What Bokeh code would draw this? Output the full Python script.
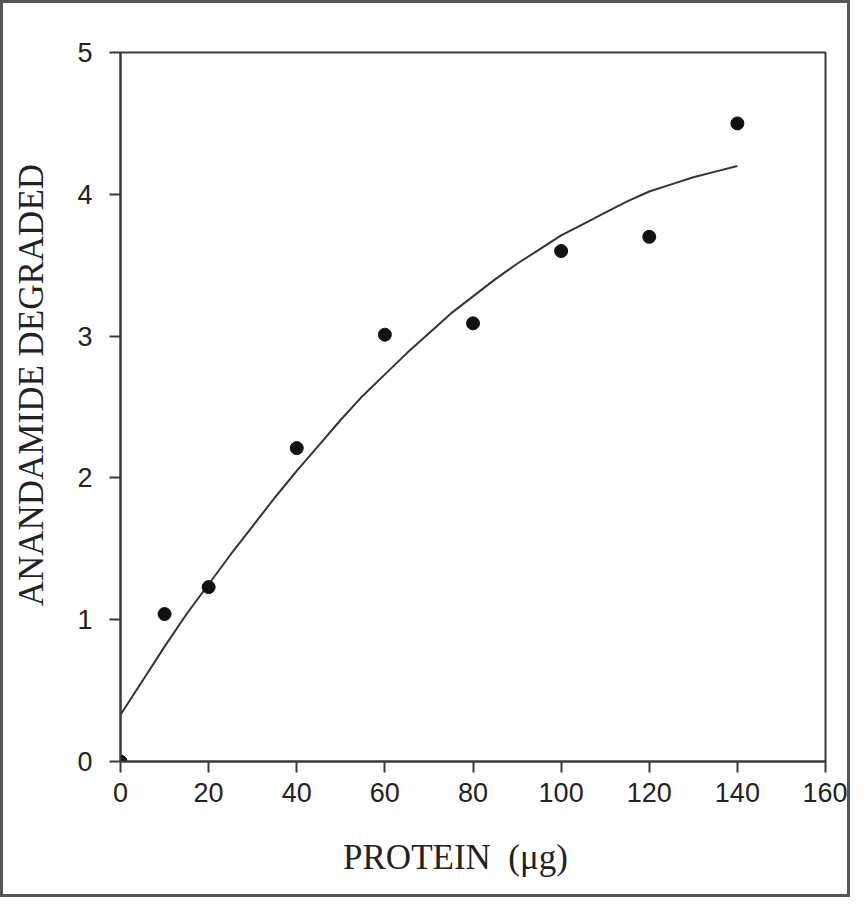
from bokeh.plotting import figure
from bokeh.models import Range1d, FixedTicker
from bokeh.embed import file_html
from bokeh.resources import INLINE

# measured points
protein = [0, 10, 20, 40, 60, 80, 100, 120, 140]
degraded = [0.0, 1.04, 1.23, 2.21, 3.01, 3.09, 3.60, 3.70, 4.50]

# fitted curve
curve_x = [0, 5, 10, 15, 20, 25, 30, 35, 40, 45, 50, 55, 60, 65, 70, 75, 80,
           85, 90, 95, 100, 105, 110, 115, 120, 125, 130, 135, 140]
curve_y = [0.33, 0.57, 0.81, 1.04, 1.25, 1.46, 1.66, 1.86, 2.05, 2.23, 2.41,
           2.58, 2.73, 2.88, 3.02, 3.16, 3.28, 3.40, 3.51, 3.61, 3.71, 3.79,
           3.87, 3.95, 4.02, 4.07, 4.12, 4.16, 4.20]

x_ticks = [0, 20, 40, 60, 80, 100, 120, 140, 160]
y_ticks = [0, 1, 2, 3, 4, 5]

INK = "#3a3a3a"
NB = "\u00a0"

p = figure(width=850, height=897, output_backend="svg", toolbar_location=None,
           x_range=Range1d(0, 160), y_range=Range1d(0, 5),
           min_border_left=117, min_border_right=28, min_border_top=49,
           min_border_bottom=139)
p.styles = {"border": "3px solid #555", "box-sizing": "border-box"}
p.background_fill_color = "white"
p.border_fill_color = "white"
p.grid.visible = False
p.outline_line_color = INK
p.outline_line_width = 2

for ax in (p.xaxis[0], p.yaxis[0]):
    ax.axis_line_color = INK
    ax.axis_line_width = 2
    ax.major_tick_line_color = INK
    ax.major_tick_line_width = 2
    ax.major_tick_in = 0
    ax.major_tick_out = 11
    ax.minor_tick_line_color = None
    ax.major_label_text_font = "Liberation Sans"
    ax.major_label_text_font_size = "27px"
    ax.major_label_text_color = "#222"
    ax.axis_label_text_font = "Liberation Serif"
    ax.axis_label_text_font_style = "normal"
    ax.axis_label_text_color = "#222"
    ax.axis_label_text_font_size = "35px"

p.xaxis[0].ticker = FixedTicker(ticks=x_ticks)
p.yaxis[0].ticker = FixedTicker(ticks=y_ticks)
p.xaxis[0].major_label_standoff = 10
p.yaxis[0].major_label_standoff = 17
p.xaxis[0].axis_label = "PROTEIN" + NB * 2 + "(μg)" + NB * 4
p.xaxis[0].axis_label_standoff = 33
p.yaxis[0].axis_label = NB * 5 + "ANANDAMIDE DEGRADED"
p.yaxis[0].axis_label_standoff = 23

p.line(curve_x, curve_y, line_color="#333", line_width=2)
p.scatter(protein, degraded, size=13, fill_color="#111", line_color="#111")

open("out.html", "w").write(file_html(p, INLINE))
